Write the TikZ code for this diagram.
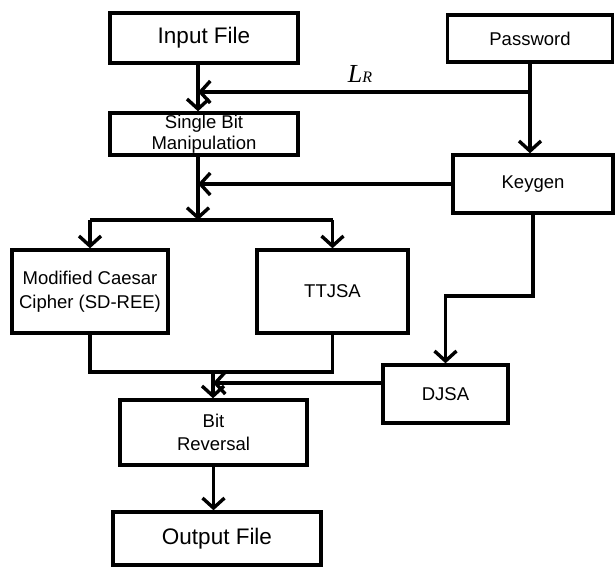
\documentclass[tikz,border=0pt]{standalone}
\usepackage{fontspec}
\setmainfont{Liberation Sans}
\newfontfamily\lrfont{Liberation Serif}
\usetikzlibrary{arrows.meta, positioning}
\tikzset{
  box/.style={rectangle, draw=black, line width=3.4pt, fill=white, inner sep=0pt,
              align=center, font=\fontsize{18.5}{23.5}\selectfont},
  bigbox/.style={box, font=\fontsize{22.5}{26}\selectfont},
  link/.style={draw=black, line width=3.4pt},
  flow/.style={link, -{Straight Barb[length=10pt, width=22pt]}}
}

\begin{document}
\begin{tikzpicture}[x=1pt, y=-1pt]
  \useasboundingbox (0,0) rectangle (616,567);
  \node[bigbox, minimum width=188pt, minimum height=50pt] (inp) at (204,38) {Input File};
  \node[box, minimum width=165pt, minimum height=47pt] (pwd) at (530,38.5) {Password};
  \node[box, minimum width=188pt, minimum height=42pt, font=\fontsize{18.5}{21.5}\selectfont] (sbm) at (204,134) {Single Bit\\Manipulation};
  \node[box, minimum width=160pt, minimum height=58pt] (key) at (533,184) {Keygen};
  \node[box, minimum width=156pt, minimum height=83pt] (mcc) at (90,291.5) {Modified Caesar\\Cipher (SD-REE)};
  \node[box, minimum width=151pt, minimum height=83pt] (tt) at (332.5,291.5) {TTJSA};
  \node[box, minimum width=125pt, minimum height=58pt] (djsa) at (445.5,394) {DJSA};
  \node[box, minimum width=187pt, minimum height=65pt] (bitr) at (213.5,432.5) {Bit\\Reversal};
  \node[bigbox, minimum width=208pt, minimum height=53pt] (outf) at (217,538.5) {Output File};
  \node[font=\lrfont\itshape\fontsize{26}{28}\selectfont] (lr) at (360,74)
    {L\fontsize{16}{18}\selectfont R};

  % junction points
  \coordinate (lrj) at (pwd.south |- 0,92);
  \coordinate (inj) at (198,92);
  \coordinate (kyj) at (key.west -| inj);
  \coordinate (spl) at (198,220);
  \coordinate (spa) at (mcc.north |- spl);
  \coordinate (spb) at (tt.north |- spl);
  \coordinate (mrg) at (213,372);
  \coordinate (mra) at (mcc.south |- mrg);
  \coordinate (mrb) at (tt.south |- mrg);
  \coordinate (djj) at (213,383);
  \coordinate (djw) at (djsa.west |- djj);
  \coordinate (kbend) at (key.south |- 0,296);
  \coordinate (dbend) at (djsa.north |- kbend);

  \draw[flow] ([xshift=-6pt]inp.south) -- ([xshift=-6pt]sbm.north);
  \draw[flow] (pwd.south) -- (pwd.south |- key.north);
  \draw[flow] (lrj) -- (inj);
  \draw[flow] (key.west) -- (kyj);
  \draw[flow] ([xshift=-6pt]sbm.south) -- (spl);
  \draw[link] (spa) -- (spb);
  \draw[flow] (spa) -- (mcc.north);
  \draw[flow] (spb) -- (tt.north);
  \draw[link] (mcc.south) -- (mra) -- (mrb) -- (tt.south);
  \draw[flow] (mrg) -- (mrg |- bitr.north);
  \draw[flow] (key.south) -- (kbend) -- (dbend) -- (djsa.north);
  \draw[flow] (djw) -- (djj);
  \draw[flow] (bitr.south) -- (bitr.south |- outf.north);
\end{tikzpicture}
\end{document}
